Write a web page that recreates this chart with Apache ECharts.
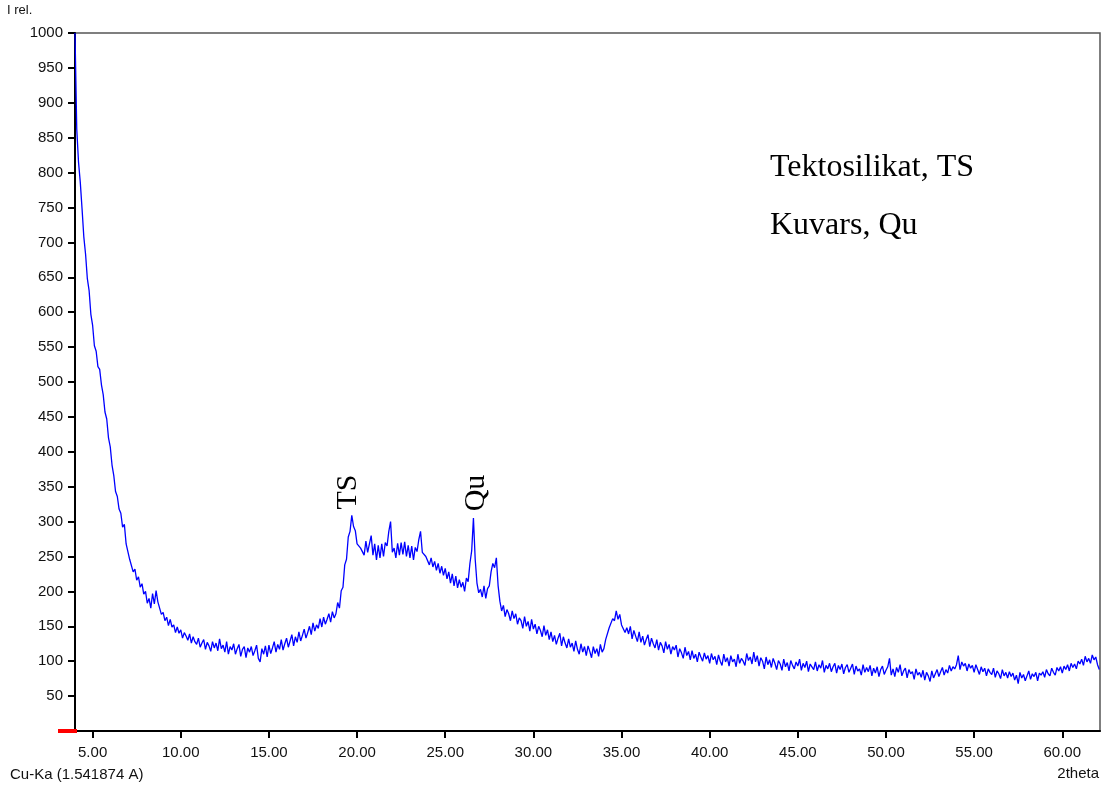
<!DOCTYPE html>
<html>
<head>
<meta charset="utf-8">
<title>XRD</title>
<script src="https://cdn.jsdelivr.net/npm/echarts@6/dist/echarts.min.js"></script>
<style>
  html, body { margin: 0; padding: 0; background: #fff; }
  #chart { width: 1105px; height: 789px; }
</style>
</head>
<body>
<div id="chart"></div>
<script>
// scan grid (2theta, degrees)
const thetaStart = 4.0;
const thetaStep = 0.1;

// intensity, one row per degree (x.0 .. x.9)
const intensity = [
  1000, 862, 815, 786, 748, 708, 683, 648, 631, 597, // 4
  581, 552, 544, 522, 518, 496, 482, 457, 447, 420,  // 5
  407, 381, 366, 343, 336, 318, 312, 292, 296, 268,  // 6
  266, 246, 247, 228, 232, 216, 221, 206, 211, 196,  // 7
  200, 183, 190, 176, 197, 182, 201, 185, 186, 167,  // 8
  170, 158, 163, 151, 160, 149, 152, 141, 149, 140,  // 9
  145, 133, 141, 136, 130, 139, 126, 135, 128, 124,  // 10
  133, 120, 126, 131, 117, 127, 122, 114, 128, 119,  // 11
  126, 115, 132, 118, 123, 113, 128, 110, 121, 116,  // 12
  125, 110, 118, 124, 107, 117, 121, 105, 119, 113,  // 13
  121, 108, 115, 123, 104, 99, 118, 110, 122, 106,   // 14
  123, 111, 119, 128, 113, 124, 117, 131, 116, 125,  // 15
  133, 120, 129, 138, 122, 135, 127, 142, 129, 137,  // 16
  146, 133, 141, 150, 138, 155, 143, 152, 147, 161,  // 17
  149, 163, 153, 160, 168, 156, 171, 162, 168, 184,  // 18
  176, 201, 206, 238, 246, 278, 286, 309, 293, 287,  // 19
  268, 270, 262, 264, 252, 272, 256, 268, 280, 252,  // 20
  268, 245, 266, 248, 268, 250, 270, 265, 286, 300,  // 21
  256, 262, 248, 269, 252, 270, 253, 271, 250, 266,  // 22
  248, 265, 245, 263, 257, 274, 286, 256, 258, 250,  // 23
  252, 238, 248, 235, 243, 230, 240, 226, 236, 223,  // 24
  233, 218, 228, 212, 225, 208, 222, 205, 217, 206,  // 25
  213, 200, 219, 214, 240, 258, 305, 246, 212, 198,  // 26
  203, 192, 208, 190, 204, 208, 228, 240, 234, 248,  // 27
  208, 186, 172, 180, 164, 174, 168, 158, 172, 161,  // 28
  168, 153, 162, 158, 147, 164, 150, 157, 143, 160,  // 29
  146, 153, 139, 150, 144, 135, 151, 137, 145, 131,  // 30
  142, 128, 137, 124, 133, 140, 122, 135, 126, 119,  // 31
  132, 120, 126, 114, 129, 117, 110, 125, 113, 121,  // 32
  108, 122, 114, 105, 121, 111, 118, 107, 124, 113,  // 33
  118, 131, 129, 148, 150, 161, 158, 172, 160, 167,  // 34
  152, 153, 141, 148, 139, 150, 132, 144, 136, 128,  // 35
  142, 127, 136, 123, 131, 138, 121, 133, 125, 119,  // 36
  131, 116, 127, 122, 112, 128, 117, 124, 110, 121,  // 37
  116, 123, 106, 118, 112, 104, 120, 108, 114, 102,  // 38
  115, 104, 110, 99, 113, 106, 100, 112, 103, 108,   // 39
  97, 111, 102, 107, 95, 109, 100, 94, 110, 99,      // 40
  105, 93, 108, 99, 103, 92, 110, 97, 104, 100,      // 41
  94, 111, 101, 106, 96, 113, 99, 108, 93, 105,      // 42
  100, 89, 106, 95, 102, 91, 104, 97, 88, 101,       // 43
  96, 87, 103, 92, 98, 86, 101, 94, 89, 99,          // 44
  93, 103, 87, 97, 91, 100, 85, 96, 92, 88,          // 45
  99, 86, 95, 90, 101, 84, 94, 89, 97, 85,           // 46
  92, 97, 83, 94, 88, 96, 82, 91, 95, 84,            // 47
  90, 96, 81, 93, 86, 89, 80, 95, 84, 91,            // 48
  85, 94, 79, 90, 83, 92, 78, 88, 93, 81,            // 49
  87, 92, 104, 80, 89, 78, 91, 84, 95, 79,           // 50
  86, 90, 76, 88, 82, 85, 74, 89, 80, 84,            // 51
  77, 87, 73, 84, 79, 71, 86, 76, 82, 88,            // 52
  78, 85, 91, 80, 88, 83, 94, 86, 92, 89,            // 53
  95, 108, 88, 99, 93, 97, 86, 96, 90, 94,           // 54
  84, 95, 88, 81, 92, 85, 90, 79, 89, 84,            // 55
  81, 90, 77, 86, 82, 75, 88, 79, 84, 76,            // 56
  85, 78, 83, 73, 80, 68, 84, 76, 81, 72,            // 57
  79, 86, 74, 82, 78, 84, 72, 83, 80, 85,            // 58
  77, 88, 82, 79, 90, 84, 80, 91, 86, 92,            // 59
  83, 93, 88, 95, 86, 97, 91, 96, 89, 100,           // 60
  96, 103, 94, 107, 99, 104, 97, 109, 102, 106,      // 61
  95, 88                                             // 62
];

const xTicks = [5, 10, 15, 20, 25, 30, 35, 40, 45, 50, 55, 60];
const yTicks = [50, 100, 150, 200, 250, 300, 350, 400, 450, 500,
  550, 600, 650, 700, 750, 800, 850, 900, 950, 1000];

const peakLabels = ['TS', 'Qu'];
const legendLines = ['Tektosilikat, TS', 'Kuvars, Qu'];

const theta = intensity.map((_, i) => +(thetaStart + i * thetaStep).toFixed(1));
const points = intensity.map((v, i) => [theta[i], v]);

const chart = echarts.init(document.getElementById('chart'), null, { renderer: 'canvas' });

const tickFont = { fontFamily: 'Liberation Sans, Arial, sans-serif', fontSize: 15, color: '#111' };
const serif = 'Liberation Serif, Times New Roman, serif';

const option = {
  animation: false,
  backgroundColor: '#fff',
  grid: {
    left: 75, right: 5, top: 33, bottom: 58,
    show: true, borderColor: '#555', borderWidth: 1.5, backgroundColor: 'transparent'
  },
  xAxis: {
    type: 'value',
    min: 4.0,
    max: 62.14,
    splitLine: { show: false },
    axisLine: { lineStyle: { color: '#000', width: 2 } },
    axisTick: { customValues: xTicks, length: 7, lineStyle: { color: '#000', width: 2 } },
    axisLabel: Object.assign({
      customValues: xTicks,
      margin: 14,
      formatter: v => v.toFixed(2)
    }, tickFont)
  },
  yAxis: {
    type: 'value',
    min: 0,
    max: 1000,
    splitLine: { show: false },
    axisLine: { lineStyle: { color: '#000', width: 2 } },
    axisTick: { customValues: yTicks, length: 7, lineStyle: { color: '#000', width: 2 } },
    axisLabel: Object.assign({ customValues: yTicks, margin: 12, formatter: v => String(v) }, tickFont)
  },
  series: [{
    type: 'line',
    data: points,
    showSymbol: false,
    symbol: 'none',
    sampling: null,
    lineStyle: { color: '#0000ff', width: 1.3 },
    z: 3
  }],
  graphic: [
    { type: 'text', left: 7, top: 4, style: { text: 'I rel.', font: '13px Liberation Sans, Arial, sans-serif', fill: '#111' } },
    { type: 'text', left: 10, top: 767, style: { text: 'Cu-Ka (1.541874 A)', font: '15px Liberation Sans, Arial, sans-serif', fill: '#111' } },
    { type: 'text', right: 6, top: 766, style: { text: '2theta', font: '15px Liberation Sans, Arial, sans-serif', fill: '#111' } },
    { type: 'rect', shape: { x: 58, y: 729, width: 19, height: 4 }, style: { fill: '#ff0000' }, z: 10 },
    {
      type: 'text', x: 363, y: 492, rotation: Math.PI / 2,
      style: { text: peakLabels[0], font: '30px ' + serif, fill: '#000', textAlign: 'center', textVerticalAlign: 'bottom' }
    },
    {
      type: 'text', x: 491, y: 493, rotation: Math.PI / 2,
      style: { text: peakLabels[1], font: '30px ' + serif, fill: '#000', textAlign: 'center', textVerticalAlign: 'bottom' }
    },
    { type: 'text', left: 770, top: 152, style: { text: legendLines[0], font: '32px ' + serif, fill: '#000' } },
    { type: 'text', left: 770, top: 210, style: { text: legendLines[1], font: '32px ' + serif, fill: '#000' } }
  ]
};

chart.setOption(option);
</script>
</body>
</html>
